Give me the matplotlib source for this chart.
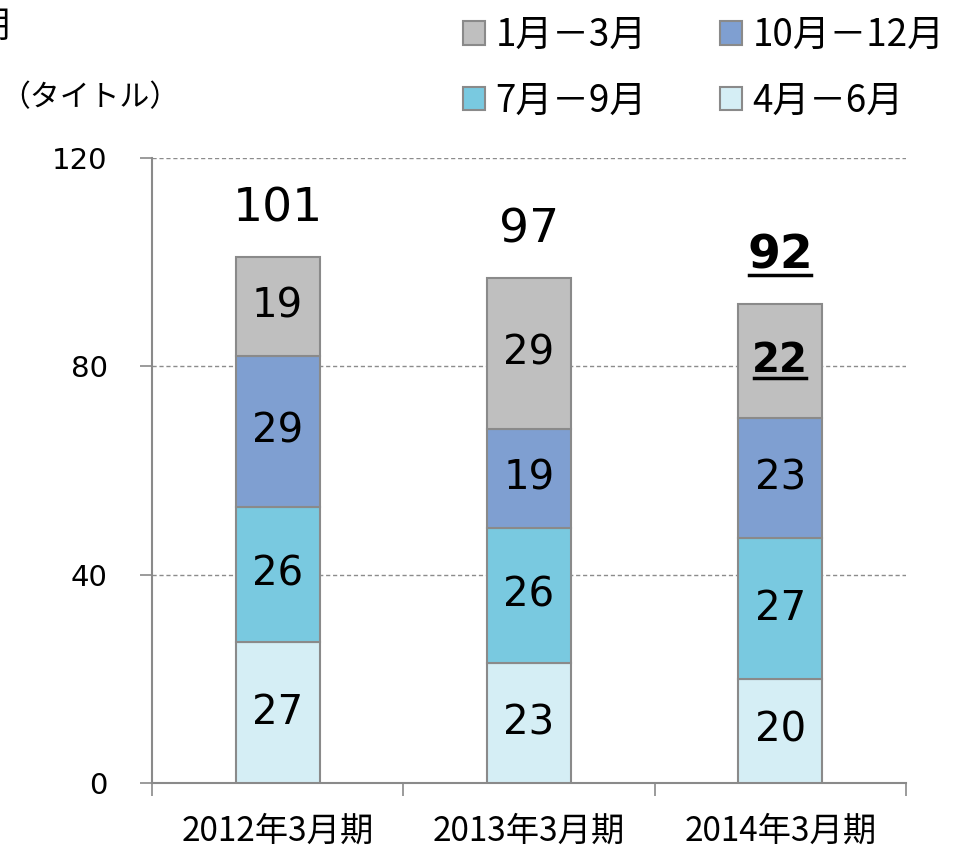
import matplotlib
matplotlib.use("Agg")
import matplotlib.pyplot as plt
from matplotlib.lines import Line2D
import numpy as np

plt.rcParams['font.family'] = ['DejaVu Sans', 'Noto Sans CJK JP']

categories = ["2012年3月期", "2013年3月期", "2014年3月期"]
series_names = ["4月－6月", "7月－9月", "10月－12月", "1月－3月"]
q1 = [27, 23, 20]   # 4-6
q2 = [26, 26, 27]   # 7-9
q3 = [29, 19, 23]   # 10-12
q4 = [19, 29, 22]   # 1-3
totals = [101, 97, 92]
yticks = [0, 40, 80, 120]
colors = ["#D5EEF5", "#79C9E0", "#7F9FD1", "#BFBFBF"]
edge = "#8A8A8A"

W, H = 961, 849
fig = plt.figure(figsize=(W / 100, H / 100), dpi=100)
ax = fig.add_axes([152 / W, 66 / H, 754 / W, 625 / H])

x = np.arange(len(categories))
width = 0.335
bottom = np.zeros(len(categories))
ul_texts = []
for vals, col, name in zip([q1, q2, q3, q4], colors, series_names):
    ax.bar(x, vals, width, bottom=bottom, color=col, edgecolor=edge,
           linewidth=1.5, label=name, zorder=3)
    for i, v in enumerate(vals):
        bold = (name == "1月－3月" and i == 2)
        t = ax.text(x[i], bottom[i] + v / 2, str(v), ha='center', va='center',
                    fontsize=29, family=['DejaVu Sans'],
                    fontweight='bold' if bold else 'normal', zorder=4)
        if bold:
            ul_texts.append(t)
    bottom += np.array(vals)

for i, tot in enumerate(totals):
    bold = (i == 2)
    t = ax.text(x[i], tot + 9.2, str(tot), ha='center', va='center',
                fontsize=34, family=['DejaVu Sans'],
                fontweight='bold' if bold else 'normal', zorder=4)
    if bold:
        ul_texts.append(t)

ax.set_xlim(-0.5, 2.5)
ax.set_ylim(0, 120)
ax.set_yticks(yticks)
ax.set_yticklabels([str(v) for v in yticks], fontsize=21, family=['DejaVu Sans'])
ax.tick_params(axis='y', length=9, width=1.2, color='#8A8A8A', pad=23, direction='out')

ax.set_xticks([-0.5, 0.5, 1.5, 2.5])
ax.set_xticklabels([])
ax.tick_params(axis='x', which='major', length=9, width=1.2, color='#8A8A8A', direction='out')
ax.set_xticks(x, minor=True)
ax.set_xticklabels(categories, minor=True, fontsize=24,
                   family=['Noto Sans CJK JP'])
ax.tick_params(axis='x', which='minor', length=0, pad=22)

for s in ['top', 'right']:
    ax.spines[s].set_visible(False)
for s in ['left', 'bottom']:
    ax.spines[s].set_color('#8A8A8A')
    ax.spines[s].set_linewidth(1.5)

ax.yaxis.grid(True, linestyle=(0, (3, 2)), color='#8C8C8C', linewidth=1.0, zorder=0)
ax.set_axisbelow(True)

handles, labels = ax.get_legend_handles_labels()
order = [3, 1, 2, 0]
leg = fig.legend([handles[i] for i in order], [labels[i] for i in order],
                 loc='upper left', bbox_to_anchor=(463 / W, 1 - 16 / H), ncol=2,
                 frameon=False, handlelength=0.6, handleheight=0.6,
                 handletextpad=0.28, columnspacing=2.0, labelspacing=0.72,
                 borderpad=0, borderaxespad=0,
                 prop={'family': ['Noto Sans CJK JP'], 'size': 26.5})

fig.text(0 / W, 1 - 98 / H, "（タイトル）", ha='left', va='center', fontsize=21.5,
         family=['Noto Sans CJK JP'])
fig.text(10 / W, 1 - 28 / H, "期", ha='right', va='center', fontsize=26,
         family=['Noto Sans CJK JP'])

fig.canvas.draw()
renderer = fig.canvas.get_renderer()
for t in ul_texts:
    bb = t.get_window_extent(renderer)
    y = bb.y0 + 3
    fig.add_artist(Line2D([(bb.x0 + 2) / W, (bb.x1 - 2) / W], [y / H, y / H],
                          transform=fig.transFigure, color='black', linewidth=2.5))

fig.savefig("out.png", dpi=100)
